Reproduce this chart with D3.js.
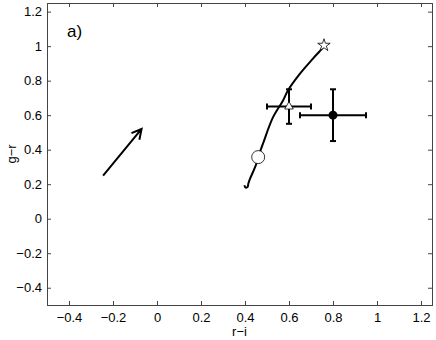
<!DOCTYPE html>
<html lang="en">
<head>
    <meta charset="UTF-8">
    <title>g-r vs r-i</title>
    <script src="https://d3js.org/d3.v7.min.js"></script>
    <style>
        body{
            margin: 0;
            background: white;
        }
        text{
            font-family: "Liberation Sans", Arial, sans-serif;
        }
        .tick text{
            font-size: 13px;
        }
    </style>
</head>
<body>
<svg id="canvas" width="436" height="340"></svg>
<script>
    // track in the colour-colour plane (r-i, g-r)
    let trackRI = [0.397, 0.403, 0.412, 0.415, 0.423, 0.449, 0.460, 0.482, 0.527, 0.573, 0.595, 0.650, 0.709, 0.750, 0.759]
    let trackGR = [0.194, 0.180, 0.184, 0.203, 0.232, 0.309, 0.357, 0.436, 0.587, 0.685, 0.743, 0.841, 0.928, 0.986, 1.003]

    // markers
    let startPoint = [0.46, 0.357]     // open circle
    let endPoint = [0.759, 1.005]      // star

    // points with error bars: [r-i, g-r, err r-i, err g-r]
    let trianglePoint = [0.60, 0.65, 0.10, 0.10]
    let dotPoint = [0.80, 0.60, 0.15, 0.15]

    // reddening arrow: tail, head
    let arrowTail = [-0.245, 0.25]
    let arrowHead = [-0.07, 0.52]

    let xTicks = [-0.4, -0.2, 0, 0.2, 0.4, 0.6, 0.8, 1, 1.2]
    let yTicks = [-0.4, -0.2, 0, 0.2, 0.4, 0.6, 0.8, 1, 1.2]

    let svg = d3.select('svg')
    let mLeft = 47, mRight = 432, mTop = 3, mBottom = 305

    let x = d3.scaleLinear().domain([-0.5, 1.25]).range([mLeft, mRight])
    let y = d3.scaleLinear().domain([-0.5, 1.25]).range([mBottom, mTop])

    let fmt = function (d){ return d3.format('')(d).replace('-', '\u2212') }

    // axes, matlab style: ticks inside, on all four sides
    let axisColor = '#444'
    svg.append('g')
        .attr('transform', 'translate(0,' + mBottom + ')')
        .call(d3.axisBottom(x).tickValues(xTicks).tickSize(-4).tickPadding(8).tickFormat(fmt))
    svg.append('g')
        .attr('transform', 'translate(' + mLeft + ',0)')
        .call(d3.axisLeft(y).tickValues(yTicks).tickSize(-4).tickPadding(5).tickFormat(fmt))
    svg.append('g')
        .attr('transform', 'translate(0,' + mTop + ')')
        .call(d3.axisTop(x).tickValues(xTicks).tickSize(-4).tickFormat(''))
    svg.append('g')
        .attr('transform', 'translate(' + mRight + ',0)')
        .call(d3.axisRight(y).tickValues(yTicks).tickSize(-4).tickFormat(''))

    svg.selectAll('.domain').attr('stroke', axisColor)
    svg.selectAll('.tick line').attr('stroke', axisColor)
    svg.selectAll('.tick text').attr('fill', '#000')

    svg.append('text')
        .attr('x', (mLeft + mRight) / 2)
        .attr('y', 336)
        .attr('text-anchor', 'middle')
        .attr('font-size', '13px')
        .text('r\u2212i')
    svg.append('text')
        .attr('transform', 'translate(16,' + (mTop + mBottom) / 2 + ') rotate(-90)')
        .attr('text-anchor', 'middle')
        .attr('font-size', '13px')
        .text('g\u2212r')

    svg.append('text')
        .attr('x', 67)
        .attr('y', 37)
        .attr('font-size', '17px')
        .text('a)')

    let plot = svg.append('g')

    // track
    let trackData = d3.zip(trackRI, trackGR)
    plot.append('path')
        .datum(trackData)
        .attr('fill', 'none')
        .attr('stroke', 'black')
        .attr('stroke-width', 2)
        .attr('d', d3.line()
            .x(function (d){ return x(d[0]) })
            .y(function (d){ return y(d[1]) })
            .curve(d3.curveCatmullRom))

    // error bars
    function errorBar(p){
        let g = plot.append('g').attr('stroke', 'black').attr('stroke-width', 2)
        let cap = 3
        g.append('line')
            .attr('x1', x(p[0] - p[2])).attr('x2', x(p[0] + p[2]))
            .attr('y1', y(p[1])).attr('y2', y(p[1]))
        g.append('line')
            .attr('x1', x(p[0])).attr('x2', x(p[0]))
            .attr('y1', y(p[1] - p[3])).attr('y2', y(p[1] + p[3]))
        ;[p[0] - p[2], p[0] + p[2]].forEach(function (v){
            g.append('line')
                .attr('x1', x(v)).attr('x2', x(v))
                .attr('y1', y(p[1]) - cap).attr('y2', y(p[1]) + cap)
        })
        ;[p[1] - p[3], p[1] + p[3]].forEach(function (v){
            g.append('line')
                .attr('x1', x(p[0]) - cap).attr('x2', x(p[0]) + cap)
                .attr('y1', y(v)).attr('y2', y(v))
        })
    }
    errorBar(trianglePoint)
    errorBar(dotPoint)

    plot.append('path')
        .attr('d', d3.symbol(d3.symbolTriangle).size(32)())
        .attr('transform', 'translate(' + x(trianglePoint[0]) + ',' + y(trianglePoint[1]) + ')')
        .attr('fill', 'white')
        .attr('stroke', 'black')
        .attr('stroke-width', 0.8)

    plot.append('circle')
        .attr('cx', x(dotPoint[0]))
        .attr('cy', y(dotPoint[1]))
        .attr('r', 4.5)
        .attr('fill', 'black')

    plot.append('circle')
        .attr('cx', x(startPoint[0]))
        .attr('cy', y(startPoint[1]))
        .attr('r', 6.5)
        .attr('fill', 'white')
        .attr('stroke', 'black')
        .attr('stroke-width', 0.8)

    plot.append('path')
        .attr('d', d3.symbol(d3.symbolStar).size(48)())
        .attr('transform', 'translate(' + x(endPoint[0]) + ',' + y(endPoint[1]) + ')')
        .attr('fill', 'white')
        .attr('stroke', 'black')
        .attr('stroke-width', 0.8)

    // arrow
    let ax0 = x(arrowTail[0]), ay0 = y(arrowTail[1])
    let ax1 = x(arrowHead[0]), ay1 = y(arrowHead[1])
    let ang = Math.atan2(ay1 - ay0, ax1 - ax0)
    let barb = 11, spread = 28 * Math.PI / 180
    let arrowPath = d3.path()
    arrowPath.moveTo(ax0, ay0)
    arrowPath.lineTo(ax1, ay1)
    arrowPath.moveTo(ax1 - barb * Math.cos(ang - spread), ay1 - barb * Math.sin(ang - spread))
    arrowPath.lineTo(ax1, ay1)
    arrowPath.lineTo(ax1 - barb * Math.cos(ang + spread), ay1 - barb * Math.sin(ang + spread))
    plot.append('path')
        .attr('d', arrowPath.toString())
        .attr('fill', 'none')
        .attr('stroke', 'black')
        .attr('stroke-width', 2)
</script>
</body>
</html>
